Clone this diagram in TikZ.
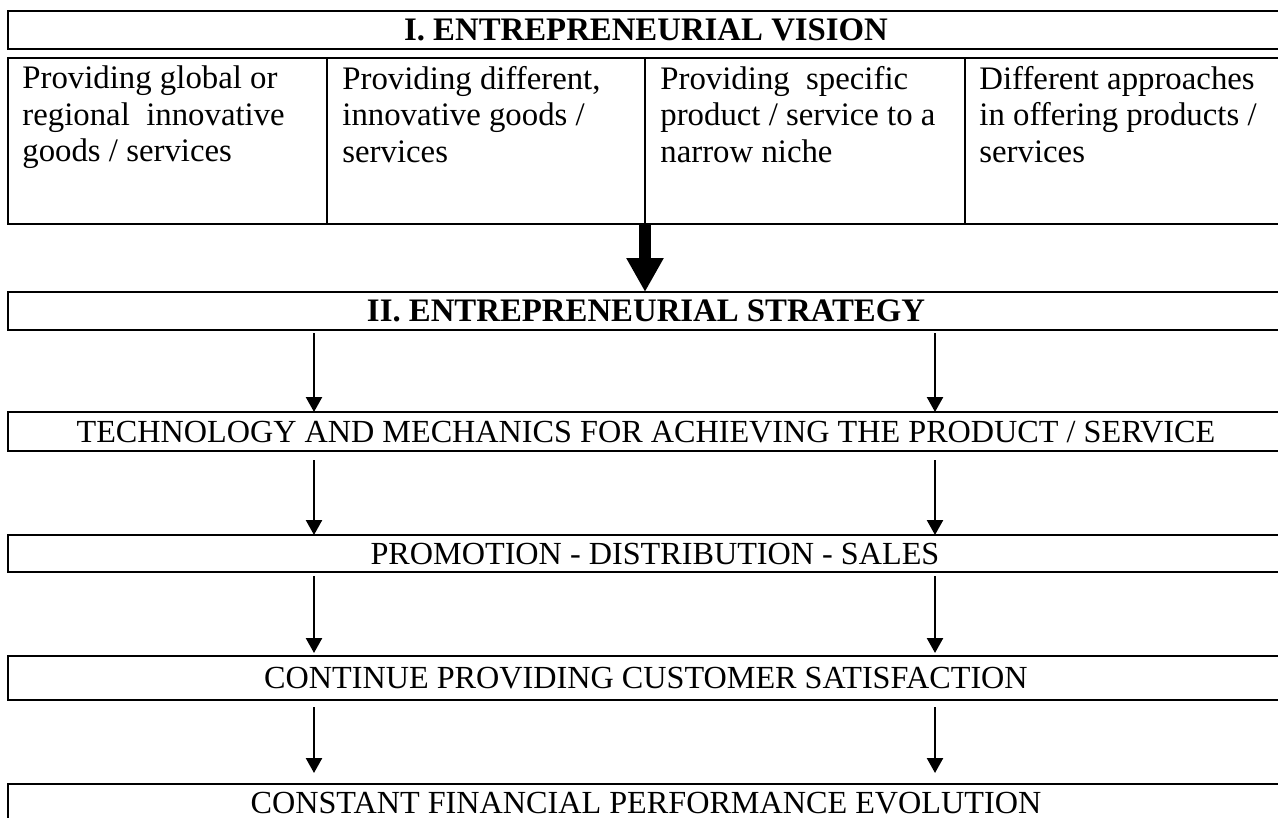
\documentclass[tikz,border=0pt]{standalone}
\usepackage{fontspec}
\setmainfont{Liberation Serif}
\usetikzlibrary{positioning,arrows.meta}

\begin{document}
\begin{tikzpicture}[x=0.5pt,y=-0.5pt,node distance=42pt,
    font=\fontsize{16.4pt}{18.25pt}\selectfont,
    bar/.style={rectangle,draw,line width=1.3pt,outer sep=0pt,inner sep=0pt,minimum width=638pt,text height=10.6pt,text depth=0pt,font=\fontsize{16.1pt}{18.25pt}\selectfont},
    head bar/.style={bar,font=\fontsize{16.4pt}{18.25pt}\selectfont\bfseries},
    cell/.style={rectangle,draw,line width=1.3pt,outer sep=0pt,inner sep=0pt,minimum height=83pt},
    cell text/.style={inner sep=0pt,align=left,anchor=north west},
    flow/.style={-{Triangle[width=8pt,length=7.5pt]},line width=1.2pt},
    big flow/.style={-{Triangle[width=17.5pt,length=17pt]},line width=6pt}]

\useasboundingbox (0,0) rectangle (1278,818);
\clip (0,0) rectangle (1278,818);

% vision
\node[head bar,minimum height=19pt,anchor=north west] (vision) at (8,11) {I. ENTREPRENEURIAL VISION};
\node[cell,minimum width=159.5pt,below=4.5pt of vision.south west,anchor=north west] (c1) {};
\node[cell,minimum width=159pt,right=0pt of c1] (c2) {};
\node[cell,minimum width=160pt,right=0pt of c2] (c3) {};
\node[cell,minimum width=159pt,right=0pt of c3] (c4) {};
\node[cell text] (t1) at ([xshift=7pt,yshift=-3.8pt]c1.north west) {Providing global or\\regional\ \ innovative\\goods / services};
\node[cell text] (t2) at ([xshift=7.5pt,yshift=-3.8pt]c2.north west) {Providing different,\\innovative goods /\\services};
\node[cell text] (t3) at ([xshift=7.5pt,yshift=-3.8pt]c3.north west) {Providing\ \ specific\\product / service to a\\narrow niche};
\node[cell text] (t4) at ([xshift=7pt,yshift=-3.8pt]c4.north west) {Different approaches\\in offering products /\\services};

% strategy
\node[head bar,minimum height=19pt,below=34pt of c1.south west,anchor=north west] (strat) {II. ENTREPRENEURIAL STRATEGY};
\node[bar,minimum height=19.5pt,below=41pt of strat] (tech) {TECHNOLOGY AND MECHANICS FOR ACHIEVING THE PRODUCT / SERVICE};
\node[bar,minimum height=18.5pt,below=of tech] (promo) {\hspace*{9pt}PROMOTION - DISTRIBUTION - SALES};
\node[bar,minimum height=22pt,below=of promo] (cont) {CONTINUE PROVIDING CUSTOMER SATISFACTION};
\node[bar,minimum height=19pt,below=of cont] (const) {CONSTANT FINANCIAL PERFORMANCE EVOLUTION};

\coordinate (l) at (314,0);
\coordinate (r) at (935,0);

\path[big flow] (c3.south west) edge (strat.north -| c3.south west);
\path[flow]
(strat.south -| l) edge[shorten <=1.5pt] (tech.north -| l)
(strat.south -| r) edge[shorten <=1.5pt] (tech.north -| r)
(tech.south -| l) edge[shorten <=4.5pt] (promo.north -| l)
(tech.south -| r) edge[shorten <=4.5pt] (promo.north -| r)
(promo.south -| l) edge[shorten <=2pt,shorten >=1.5pt] (cont.north -| l)
(promo.south -| r) edge[shorten <=2pt,shorten >=1.5pt] (cont.north -| r)
(cont.south -| l) edge[shorten <=3.5pt,shorten >=5.5pt] (const.north -| l)
(cont.south -| r) edge[shorten <=3.5pt,shorten >=5.5pt] (const.north -| r);
\end{tikzpicture}
\end{document}
